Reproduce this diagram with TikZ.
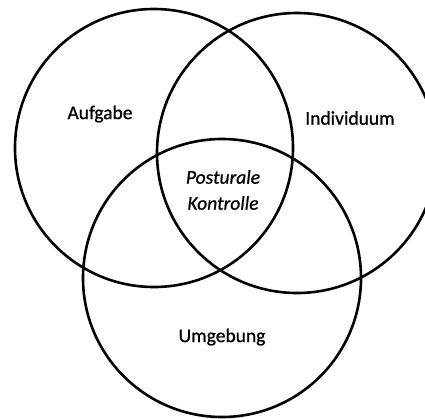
\documentclass[tikz,border=0pt]{standalone}
\usepackage{fontspec}
\setmainfont{Carlito}[RawFeature={embolden=0.8}]
\usepackage{tikz}

\begin{document}
\begin{tikzpicture}[x=1pt,y=-1pt,line width=2.6pt]
	\tikzset{set circle/.style={draw,circle,inner sep=0pt,minimum size=#1},
		set label/.style={font=\fontsize{19.5}{26}\selectfont,align=center}}
	\useasboundingbox (0,0) rectangle (425,418);

	\node[set circle=278pt] (aufgabe) at (154,148) {};
	\node[set circle=280pt] (individuum) at (297,153) {};
	\node[set circle=278pt] (umgebung) at (222,278) {};

	\node[set label] (aufgabe text) at (100,114) {Aufgabe};
	\node[set label] (individuum text) at (350,118) {Individuum};
	\node[set label] (umgebung text) at (222,337) {Umgebung};
	\node[set label,font=\fontsize{19.5}{26}\selectfont\itshape] (kontrolle text) at (223,190) {Posturale\\Kontrolle};
\end{tikzpicture}
\end{document}
